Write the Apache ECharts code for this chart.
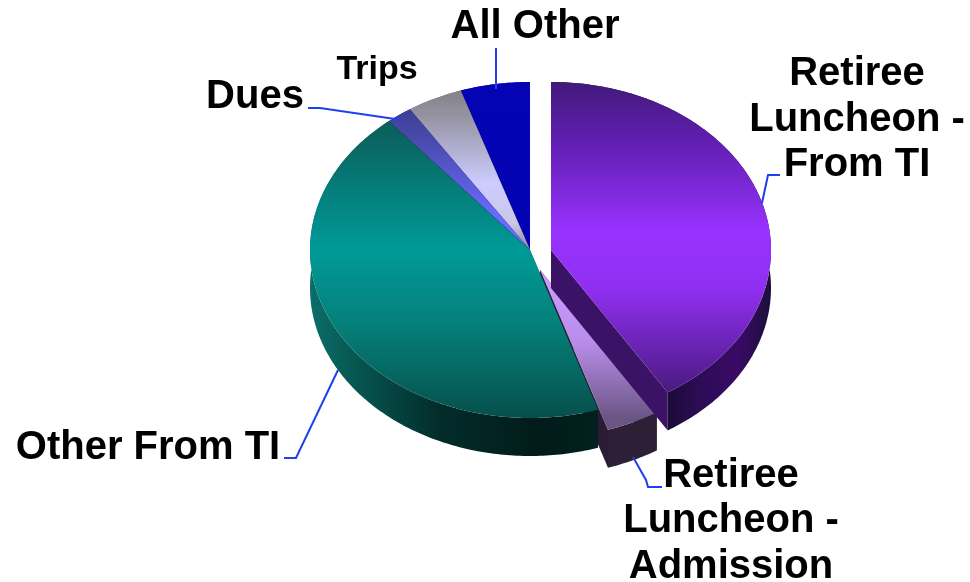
<!DOCTYPE html>
<html>
<head>
<meta charset="utf-8">
<style>html,body{margin:0;padding:0;background:#fff}#c{width:970px;height:582px}</style>
<script src="https://cdn.jsdelivr.net/npm/echarts@6/dist/echarts.min.js"></script>
</head>
<body>
<div id="c"></div>
<script>
// Data, clockwise from 12 o'clock
const categories = ['Retiree Luncheon - From TI', 'Retiree Luncheon - Admission', 'Other From TI', 'Dues', 'Trips', 'All Other'];
const values = [41.1, 3.9, 43.9, 1.9, 4.1, 5.1];
const labelTexts = ['Retiree\nLuncheon -\nFrom TI', 'Retiree\nLuncheon -\nAdmission', 'Other From TI', 'Dues', 'Trips', 'All Other'];

// Styles and layout
const RX = 220, RY = 168, DEPTH = 38, BASE = [530, 250];
const TOP = BASE[1] - RY, BOTTOM = BASE[1] + RY;
const explode = [[21, 0], [10, 20], [0, 0], [0, 0], [0, 0], [0, 0]];
const paintOrder = [5, 4, 3, 1, 2, 0];
const v = (stops) => ({type:'linear', x:0, y:TOP, x2:0, y2:BOTTOM, global:true,
  colorStops: stops.map(s => ({offset:s[0], color:s[1]}))});
const h = (x0, x1, stops) => ({type:'linear', x:x0, y:0, x2:x1, y2:0, global:true,
  colorStops: stops.map(s => ({offset:s[0], color:s[1]}))});
const tops = [
  v([[0,'#42197a'],[0.2,'#6420b8'],[0.45,'#9933ff'],[0.62,'#8f2ff0'],[0.9,'#4f1c88'],[1,'#3a1566']]),
  v([[0,'#cc99ff'],[0.6,'#cc99ff'],[0.78,'#b78ce8'],[1,'#6a5684']]),
  v([[0,'#0b5a56'],[0.15,'#0a625e'],[0.5,'#009a98'],[0.72,'#05807a'],[1,'#06504c']]),
  v([[0,'#34347f'],[0.18,'#4b4bb0'],[0.4,'#6a6aff'],[1,'#6a6aff']]),
  v([[0,'#7c7c7c'],[0.12,'#9a98aa'],[0.3,'#ccccff'],[0.42,'#c8c8e8'],[0.5,'#8a8a98'],[1,'#888']]),
  v([[0,'#0404b4'],[1,'#0000b0']])
];
const walls = [
  h(660, 771, [[0,'#170a30'],[0.35,'#2c0c55'],[0.7,'#3a0a66'],[1,'#1c0f3a']]),
  '#2d2036',
  h(310, 600, [[0,'#0b6e69'],[0.2,'#06504c'],[0.45,'#022c2a'],[0.8,'#011b19'],[1,'#02211f']]),
  '#222266', '#666', '#000088'
];
const faces = ['#3a1266', '#2a1c34', '#022422', '#222266', '#555', '#000088'];
const labelPos = [[857, 119.5], [731, 521], [148, 448], [255, 97], [377, 70], [535, 27]];
const labelSize = [40, 40, 40, 40, 34, 40];
const leaders = [
  [[780,175],[768,175],[762,203]],
  [[662,487],[648,487],[646,480],[633,457]],
  [[284,458],[296,458],[338,370]],
  [[308,108],[320,108],[402,120]],
  [],
  [[496,48],[496,89]]
];

const total = values.reduce((a, b) => a + b, 0);
const cum = [0];
values.forEach((x, i) => cum.push(cum[i] + x));
const toAngle = (x) => echarts.number.linearMap(x, [0, total], [0, 2 * Math.PI]);
const rim = (c, t, dy) => [c[0] + RX * Math.sin(t), c[1] - RY * Math.cos(t) + (dy || 0)];
const arc = (c, a, b, dy) => {
  const n = Math.max(2, Math.ceil((b - a) / 0.015)), out = [];
  for (let i = 0; i <= n; i++) out.push(rim(c, a + (b - a) * i / n, dy));
  return out;
};

function renderItem(params, api) {
  const i = params.dataIndex;
  const a = toAngle(cum[i]), b = toAngle(cum[i] + api.value(0));
  const c = [BASE[0] + explode[i][0], BASE[1] + explode[i][1]];
  const z = paintOrder.indexOf(i) * 5;
  const poly = (points, fill, z2, extra) => ({type:'polygon', shape:{points}, z2,
    style:Object.assign({fill, stroke:null}, extra || {})});
  const children = [];
  // radial faces
  [a, b].forEach(t => {
    const r = rim(c, t);
    children.push(poly([c, r, [r[0], r[1] + DEPTH], [c[0], c[1] + DEPTH]], faces[i], z));
  });
  // outer wall
  children.push(poly(arc(c, a, b).concat(arc(c, a, b, DEPTH).reverse()), walls[i], z + 1));
  // top face
  children.push(poly([c].concat(arc(c, a, b)), tops[i], z + 2));
  // leader and label
  if (leaders[i].length) {
    children.push({type:'polyline', shape:{points:leaders[i]}, z2:90,
      style:{stroke:'#1f3ff0', lineWidth:2, fill:null}});
  }
  children.push({type:'text', z2:100, style:{
    text:labelTexts[i], x:labelPos[i][0], y:labelPos[i][1],
    align:'center', verticalAlign:'middle', textAlign:'center', textVerticalAlign:'middle',
    fontFamily:'"Liberation Sans", Arial, sans-serif', fontWeight:'bold',
    fontSize:labelSize[i], lineHeight:45.5, fill:'#000'
  }});
  return {type:'group', children};
}

const chart = echarts.init(document.getElementById('c'), null, {renderer:'canvas'});
chart.setOption({
  animation:false,
  backgroundColor:'#fff',
  tooltip:{show:false},
  series:[{
    type:'custom',
    coordinateSystem:'none',
    renderItem,
    clip:false,
    silent:true,
    data:values.map((x, i) => ({name:categories[i], value:[x]}))
  }]
});
</script>
</body>
</html>
